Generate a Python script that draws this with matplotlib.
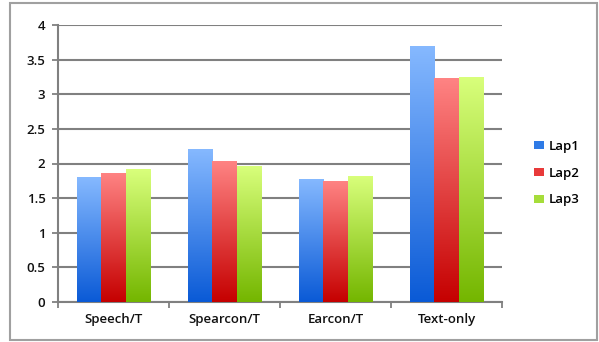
import numpy as np
import matplotlib
matplotlib.use('Agg')
import matplotlib.pyplot as plt
from matplotlib.colors import LinearSegmentedColormap
from matplotlib.patches import Rectangle, Patch

# lap times per feedback condition
categories = ['Speech/T', 'Spearcon/T', 'Earcon/T', 'Text-only']
lap1 = [1.80, 2.21, 1.78, 3.70]
lap2 = [1.87, 2.04, 1.75, 3.24]
lap3 = [1.92, 1.97, 1.82, 3.25]
series_names = ['Lap1', 'Lap2', 'Lap3']

# (top, bottom, legend) colours for the gradient fills
colours = [('#86b9ff', '#0a5ad6', '#2f7be6'),
           ('#ff8484', '#c50000', '#e83a3a'),
           ('#d9ff7c', '#74b600', '#a6dd3a')]

plt.rcParams['font.family'] = ['Open Sans', 'DejaVu Sans']
plt.rcParams['font.weight'] = 'semibold'

fig = plt.figure(figsize=(5.99, 3.42), dpi=100)
ax = fig.add_axes([58/599, 1 - 302/342, 444/599, 277/342])

# outer chart frame
fig.patches.append(Rectangle((10/599, 2/342), 587/599, 337/342, transform=fig.transFigure,
                             fill=False, edgecolor='#a0a0a0', linewidth=1.5))

x = np.arange(len(categories))
w = 0.222
grad = np.linspace(0, 1, 256).reshape(-1, 1)

for i, vals in enumerate([lap1, lap2, lap3]):
    top_c, bot_c, _ = colours[i]
    cmap = LinearSegmentedColormap.from_list('g%d' % i, [bot_c, top_c])
    bars = ax.bar(x + (i - 1) * w, vals, w, facecolor='none', edgecolor='none', zorder=3)
    for p in bars:
        bx, by = p.get_xy()
        im = ax.imshow(grad, extent=[bx, bx + p.get_width(), by, by + p.get_height()],
                       origin='lower', aspect='auto', cmap=cmap, zorder=3, interpolation='bilinear')
        im.set_clip_path(p)

ax.set_xlim(-0.5, len(categories) - 0.5)
ax.set_ylim(0, 4)
ax.set_yticks(np.arange(0, 4.01, 0.5))
ax.set_yticklabels(['0', '0.5', '1', '1.5', '2', '2.5', '3', '3.5', '4'])
ax.yaxis.grid(True, color='#808080', linewidth=1.5, zorder=1)
ax.set_axisbelow(True)

# category labels centred, tick marks on the boundaries
ax.set_xticks(x)
ax.set_xticklabels(categories)
ax.tick_params(axis='x', length=0, pad=8, labelsize=9.5, colors='#111111')
ax.set_xticks(np.arange(-0.5, len(categories), 1), minor=True)
ax.tick_params(axis='x', which='minor', length=4, width=1.3, color='#808080')
ax.tick_params(axis='y', length=4, width=1.3, color='#808080', labelsize=9.5, pad=5, labelcolor='#111111')

for s in ['top', 'right']:
    ax.spines[s].set_visible(False)
for s in ['left', 'bottom']:
    ax.spines[s].set_color('#808080')
    ax.spines[s].set_linewidth(1.5)

handles = [Patch(facecolor=c[2], edgecolor='none') for c in colours]
fig.legend(handles, series_names, loc='center left', bbox_to_anchor=(522/599, 1 - 173/342),
           frameon=False, fontsize=9.5, handlelength=0.8, handleheight=0.6,
           handletextpad=0.3, labelspacing=1.05)

fig.savefig('out.png', dpi=100)
